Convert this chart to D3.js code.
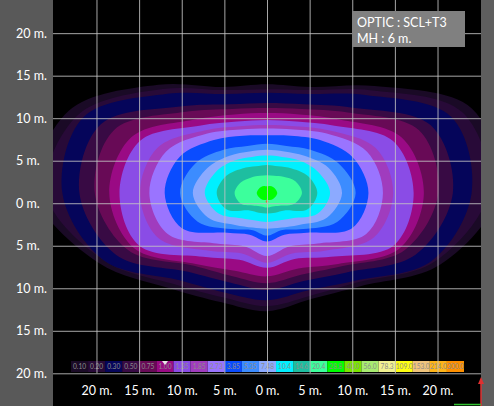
<!DOCTYPE html>
<html>
<head>
<meta charset="utf-8">
<script src="https://cdnjs.cloudflare.com/ajax/libs/d3/7.8.5/d3.min.js"></script>
<style>
  html, body { margin: 0; padding: 0; background: #000; }
  svg { display: block; }
  text { font-family: Lato, 'Open Sans', sans-serif; }
</style>
</head>
<body>
<svg id="chart" width="494" height="406"></svg>
<script>
// iso-lux levels shown in the colour strip
var level_labels = ['0.10', '0.20', '0.30', '0.50', '0.75', '1.00', '1.35', '1.85', '2.73', '3.85', '5.35', '7.48',
  '10.4', '14.6', '20.4', '28.8', '40.0', '56.0', '78.3', '109.0', '153.0', '214.0', '300.0'];
var level_colors = ['#1a0a26', '#280a38', '#05055a', '#380a44', '#680a56', '#9a0a84', '#8a4ce6', '#a03cbe', '#9a74ff',
  '#0a4cff', '#3c8cff', '#8caaff', '#00f0ff', '#1ebea0', '#3cff9c', '#00ff00', '#7ce600', '#a8ec70', '#f2f290',
  '#ffff10', '#f0c47c', '#ffb418', '#ff9000'];

// axis ticks (m)
var x_ticks = [-20, -15, -10, -5, 0, 5, 10, 15, 20];
var y_ticks = [20, 15, 10, 5, 0, -5, -10, -15, -20];

var info_lines = ['OPTIC : SCL+T3', 'MH : 6 m.'];

var spot_center = [0, 1.2];
var ray_angles = [0, 22.5, 45, 67.5, 90, 112.5, 135, 157.5, 180, 202.5, 225, 247.5, 270, 292.5, 315, 337.5];

// distance (m) from the spot to each iso-line, one array per level
var iso_010 = [27.1, 26.0, 17.8, 13.5, 12.8, 13.5, 18.0, 25.2, 27.1, 21.4, 15.9, 13.9, 13.9, 13.5, 15.5, 22.0];
var iso_020 = [25.9, 24.8, 17.1, 13.1, 12.2, 13.1, 17.3, 24.0, 25.9, 20.7, 15.2, 13.3, 13.3, 13.1, 14.9, 21.2];
var iso_030 = [24.0, 23.4, 16.3, 12.6, 11.8, 12.6, 16.5, 23.3, 24.0, 20.7, 14.5, 12.7, 12.6, 12.4, 14.6, 20.9];
var iso_050 = [21.8, 20.8, 14.2, 11.3, 10.6, 11.3, 14.4, 21.1, 22.0, 19.1, 13.1, 11.4, 11.4, 11.2, 13.2, 18.9];
var iso_075 = [20.1, 19.3, 13.4, 10.7, 10.0, 10.7, 13.5, 19.4, 20.2, 17.6, 12.1, 10.6, 10.6, 10.4, 12.2, 17.5];
var iso_100 = [18.4, 17.1, 12.2, 10.0, 9.4, 10.0, 12.2, 17.2, 18.5, 16.9, 11.8, 9.9, 9.8, 9.6, 11.8, 16.9];
var iso_135 = [17.2, 16.0, 11.2, 9.1, 8.6, 9.1, 11.2, 16.1, 17.3, 16.2, 10.6, 8.5, 8.8, 8.4, 10.6, 16.1];
var iso_185 = [14.8, 13.8, 10.4, 8.5, 8.0, 8.5, 10.4, 13.9, 14.9, 13.8, 9.6, 7.7, 8.2, 7.7, 9.6, 13.6];
var iso_273 = [13.6, 12.7, 9.9, 8.1, 7.6, 8.1, 9.9, 12.8, 13.8, 12.6, 8.4, 6.8, 7.4, 6.8, 8.4, 12.6];
var iso_385 = [11.9, 10.9, 8.8, 7.3, 6.8, 7.3, 8.8, 11.1, 12.0, 10.8, 6.6, 5.3, 5.7, 5.3, 6.6, 10.8];
var iso_535 = [10.4, 9.1, 7.2, 6.0, 5.8, 6.0, 7.2, 9.1, 10.2, 8.8, 6.0, 4.7, 5.0, 4.7, 6.0, 8.9];
var iso_748 = [8.8, 7.8, 6.2, 5.3, 5.1, 5.3, 6.2, 7.6, 8.7, 7.5, 5.3, 4.4, 4.2, 4.4, 5.3, 7.6];
var iso_104 = [7.4, 6.5, 5.4, 4.6, 4.4, 4.6, 5.4, 6.5, 7.3, 6.2, 4.2, 3.5, 3.4, 3.5, 4.2, 6.4];
var iso_146 = [5.9, 5.2, 4.1, 3.4, 3.3, 3.4, 4.1, 5.2, 5.9, 5.1, 2.9, 2.5, 2.4, 2.5, 2.9, 5.1];
var iso_204 = [4.1, 3.6, 2.7, 2.2, 2.1, 2.2, 2.6, 3.3, 3.8, 3.3, 2.1, 1.7, 1.7, 1.7, 2.1, 3.4];
var iso_288 = [1.2, 1.1, 1.0, 0.9, 0.8, 0.9, 1.0, 1.1, 1.2, 1.1, 1.0, 0.9, 0.8, 0.9, 1.0, 1.1];

var iso_lines = [iso_010, iso_020, iso_030, iso_050, iso_075, iso_100, iso_135, iso_185, iso_273,
  iso_385, iso_535, iso_748, iso_104, iso_146, iso_204, iso_288];

// layout
var W = 494, H = 406;
var plot = { left: 53, right: 481, top: 0, bottom: 373.3 };

var svg = d3.select('#chart');

var x = d3.scaleLinear().domain([-25.1, 25.1]).range([plot.left, plot.right]);
var y = d3.scaleLinear().domain([-20, 23.9]).range([plot.bottom, plot.top]);

// background panels
svg.append('rect').attr('width', W).attr('height', H).attr('fill', '#000');
svg.append('rect').attr('x', 0).attr('y', 0).attr('width', plot.left).attr('height', H).attr('fill', '#595959');
svg.append('rect').attr('x', plot.right).attr('y', 0).attr('width', W - plot.right).attr('height', H).attr('fill', '#5e5e5e');

svg.append('clipPath').attr('id', 'plot_clip')
  .append('rect')
  .attr('x', plot.left).attr('y', plot.top)
  .attr('width', plot.right - plot.left).attr('height', plot.bottom - plot.top);

// iso-lux bands, painted outermost first
var iso_path = d3.line()
  .x(function(d) { return x(d[0]); })
  .y(function(d) { return y(d[1]); })
  .curve(d3.curveCatmullRomClosed.alpha(0.5));

svg.append('g')
  .attr('clip-path', 'url(#plot_clip)')
  .selectAll('path')
  .data(iso_lines)
  .enter()
  .append('path')
  .attr('d', function(radii) {
    var pts = radii.map(function(r, i) {
      var a = ray_angles[i] * Math.PI / 180;
      return [spot_center[0] + r * Math.cos(a), spot_center[1] + r * Math.sin(a)];
    });
    return iso_path(pts);
  })
  .attr('fill', function(d, i) { return level_colors[i]; });

// lamp marker
svg.append('circle')
  .attr('cx', x(0)).attr('cy', y(0.2)).attr('r', 1.3)
  .attr('fill', '#d07a3a');

// colour strip
var band = d3.scaleBand().domain(level_labels).range([71, 464]);
var strip = svg.append('g').attr('class', 'strip');

strip.selectAll('rect')
  .data(level_labels)
  .enter()
  .append('rect')
  .attr('x', function(d) { return band(d); })
  .attr('y', 361)
  .attr('width', band.bandwidth())
  .attr('height', 11)
  .attr('fill', function(d, i) { return level_colors[i]; });

strip.selectAll('text')
  .data(level_labels)
  .enter()
  .append('text')
  .attr('x', function(d) { return band(d) + band.bandwidth() / 2; })
  .attr('y', 369.2)
  .attr('text-anchor', 'middle')
  .attr('font-size', 6.6)
  .attr('fill', '#8c8c8c')
  .text(function(d) { return d; });

// small pointer on the 1.00 cell
strip.append('path')
  .attr('d', 'M' + (band('1.00') + band.bandwidth() / 2 - 3) + ',361 l6,0 l-3,4 Z')
  .attr('fill', '#e8e8e8');

// grid + axis labels
var label_fmt = function(d) { return Math.abs(d) + ' m.'; };

var x_axis = svg.append('g')
  .attr('transform', 'translate(0,' + plot.bottom + ')')
  .call(d3.axisBottom(x).tickValues(x_ticks).tickSize(-(plot.bottom - plot.top)).tickFormat(label_fmt));

var y_axis = svg.append('g')
  .attr('transform', 'translate(' + plot.left + ',0)')
  .call(d3.axisLeft(y).tickValues(y_ticks).tickSize(-(plot.right - plot.left)).tickFormat(label_fmt));

[x_axis, y_axis].forEach(function(ax) {
  ax.select('.domain').remove();
  ax.selectAll('line')
    .attr('stroke', '#c4c4c4')
    .attr('stroke-opacity', 0.85)
    .attr('stroke-width', 1);
  ax.selectAll('text')
    .attr('fill', '#ffffff')
    .attr('font-size', 12.5)
    .style('font-family', 'Lato, sans-serif');
});

x_axis.selectAll('text').attr('y', 12.6);
y_axis.selectAll('text')
  .attr('x', 16 - plot.left)
  .attr('text-anchor', 'start');

// info box
var info = svg.append('g');
info.append('rect')
  .attr('x', 352).attr('y', 11).attr('width', 113).attr('height', 36)
  .attr('fill', '#808080');
info.selectAll('text')
  .data(info_lines)
  .enter()
  .append('text')
  .attr('x', 357)
  .attr('y', function(d, i) { return 27 + i * 16; })
  .attr('fill', '#ffffff')
  .attr('font-size', 12.5)
  .text(function(d) { return d; });

// axis gizmo, bottom right
svg.append('line')
  .attr('x1', 481).attr('x2', 481).attr('y1', 380).attr('y2', 406)
  .attr('stroke', '#e03030').attr('stroke-width', 1.5);
svg.append('path')
  .attr('d', 'M478,384 L481,377 L484,384 Z')
  .attr('fill', '#e03030');
svg.append('line')
  .attr('x1', 454).attr('x2', 481).attr('y1', 404.5).attr('y2', 404.5)
  .attr('stroke', '#30c030').attr('stroke-width', 1.5);
</script>
</body>
</html>
